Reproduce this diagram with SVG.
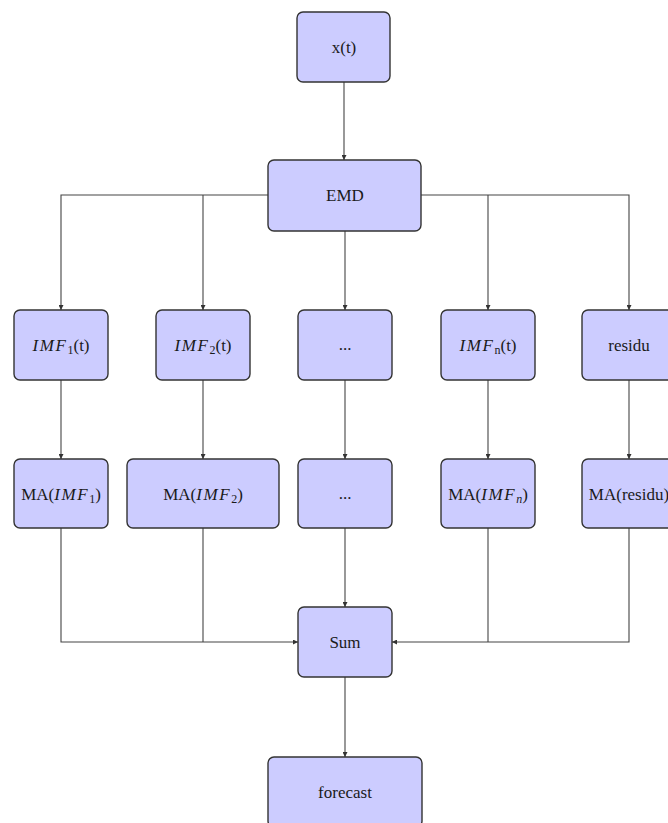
<svg xmlns="http://www.w3.org/2000/svg" width="668" height="823" viewBox="0 0 668 823">
<defs>
<style>
.box{fill:#ccccff;stroke:#333;stroke-width:1.4}
.t{font-size:17px;fill:#1a1a1a;text-anchor:middle}
.i{font-style:italic}
.m{font-style:italic;letter-spacing:1.6px}
.c{fill:none;stroke:#444;stroke-width:1.1}
</style>
<marker id="a" viewBox="0 0 6 6" refX="6" refY="3" markerWidth="5" markerHeight="5" orient="auto" markerUnits="userSpaceOnUse">
<path d="M0,0 L6,3 L0,6 Z" fill="#333"/>
</marker>
</defs>
<rect width="668" height="823" fill="#fff"/>
<g id="connectors">
<path class="c" d="M344,82 V160" marker-end="url(#a)"/>
<path class="c" d="M268,195 H61 V310" marker-end="url(#a)"/>
<path class="c" d="M203,195 V310" marker-end="url(#a)"/>
<path class="c" d="M345,231 V310" marker-end="url(#a)"/>
<path class="c" d="M421,195 H629 V310" marker-end="url(#a)"/>
<path class="c" d="M488,195 V310" marker-end="url(#a)"/>
<path class="c" d="M61,380 V459" marker-end="url(#a)"/>
<path class="c" d="M203,380 V459" marker-end="url(#a)"/>
<path class="c" d="M345,380 V459" marker-end="url(#a)"/>
<path class="c" d="M488,380 V459" marker-end="url(#a)"/>
<path class="c" d="M629,380 V459" marker-end="url(#a)"/>
<path class="c" d="M61,528 V642 H298" marker-end="url(#a)"/>
<path class="c" d="M203,528 V642"/>
<path class="c" d="M345,528 V607" marker-end="url(#a)"/>
<path class="c" d="M629,528 V642 H392" marker-end="url(#a)"/>
<path class="c" d="M488,528 V642"/>
<path class="c" d="M345,677 V757" marker-end="url(#a)"/>
</g>
<g font-family="'Liberation Serif', 'Times New Roman', 'DejaVu Serif', serif">
<g id="xt"><rect class="box" x="297" y="12" width="93" height="70" rx="6"/><text class="t" x="344" y="53">x(t)</text></g>
<g id="emd"><rect class="box" x="268" y="160" width="153" height="71" rx="6"/><text class="t" x="345" y="201">EMD</text></g>
<g id="imf1"><rect class="box" x="14" y="310" width="94" height="70" rx="6"/><text class="t" x="61" y="351"><tspan class="m">IMF</tspan><tspan font-size="12" dy="3">1</tspan><tspan dy="-3">(t)</tspan></text></g>
<g id="imf2"><rect class="box" x="156" y="310" width="94" height="70" rx="6"/><text class="t" x="203" y="351"><tspan class="m">IMF</tspan><tspan font-size="12" dy="3">2</tspan><tspan dy="-3">(t)</tspan></text></g>
<g id="dots1"><rect class="box" x="298" y="310" width="94" height="70" rx="6"/><text class="t" x="345" y="350">...</text></g>
<g id="imfn"><rect class="box" x="441" y="310" width="94" height="70" rx="6"/><text class="t" x="488" y="351"><tspan class="m">IMF</tspan><tspan font-size="12" dy="3">n</tspan><tspan dy="-3">(t)</tspan></text></g>
<g id="residu"><rect class="box" x="582" y="310" width="94" height="70" rx="6"/><text class="t" x="629" y="351">residu</text></g>
<g id="ma1"><rect class="box" x="14" y="459" width="94" height="69" rx="6"/><text class="t" x="61" y="500">MA(<tspan class="m">IMF</tspan><tspan font-size="12" dy="3">1</tspan><tspan dy="-3">)</tspan></text></g>
<g id="ma2"><rect class="box" x="127" y="459" width="152" height="69" rx="6"/><text class="t" x="203" y="500">MA(<tspan class="m">IMF</tspan><tspan font-size="12" dy="3">2</tspan><tspan dy="-3">)</tspan></text></g>
<g id="dots2"><rect class="box" x="298" y="459" width="94" height="69" rx="6"/><text class="t" x="345" y="499">...</text></g>
<g id="man"><rect class="box" x="441" y="459" width="94" height="69" rx="6"/><text class="t" x="488" y="500">MA(<tspan class="m">IMF</tspan><tspan class="i" font-size="12" dy="3">n</tspan><tspan dy="-3">)</tspan></text></g>
<g id="maresidu"><rect class="box" x="582" y="459" width="94" height="69" rx="6"/><text class="t" x="629" y="500">MA(residu)</text></g>
<g id="sum"><rect class="box" x="298" y="607" width="94" height="70" rx="6"/><text class="t" x="345" y="648">Sum</text></g>
<g id="forecast"><rect class="box" x="268" y="757" width="154" height="70" rx="6"/><text class="t" x="345" y="798">forecast</text></g>
</g>
</svg>
